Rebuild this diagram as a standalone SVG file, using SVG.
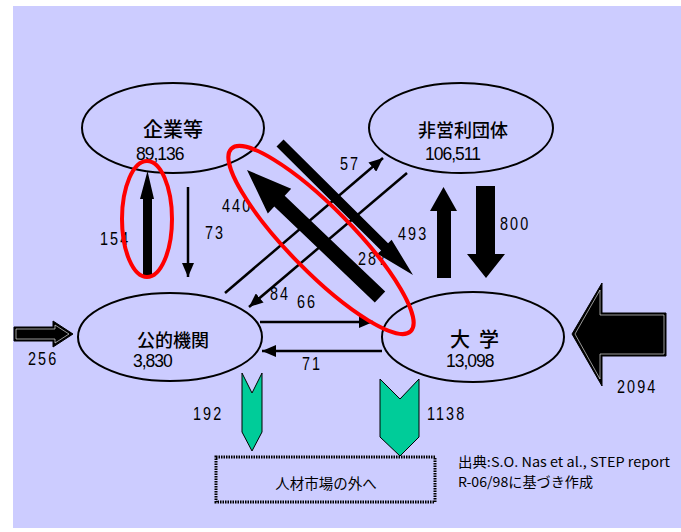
<svg xmlns="http://www.w3.org/2000/svg" width="681" height="532" viewBox="0 0 681 532">
<defs>
<style>
.node{fill:none;stroke:#000;stroke-width:2}
.jp{font-family:"Noto Sans CJK JP","Noto Sans",sans-serif;fill:#000}
.num{font-family:"Liberation Sans",Arial,sans-serif;font-size:17.5px;letter-spacing:-1px;fill:#000}
.lbl{font-family:"Liberation Sans",Arial,sans-serif;font-size:18px;letter-spacing:2.6px;fill:#000}
.thin{stroke:#000;stroke-width:2.5;fill:none;marker-end:url(#ah)}
.solid{fill:#000;stroke:none}
.green{fill:#00CC99;stroke:#000;stroke-width:1}
.red{fill:none;stroke:#FF0000;stroke-width:4}
</style>
<marker id="ah" markerUnits="userSpaceOnUse" markerWidth="15" markerHeight="12" refX="14" refY="6" orient="auto">
<path d="M0,0 L14,6 L0,12 z" fill="#000"/>
</marker>
</defs>
<rect x="13" y="6" width="668" height="522" fill="#CCCCFF"/>

<g id="node-kigyo">
<ellipse class="node" cx="173" cy="128" rx="91" ry="45"/>
<text class="jp" x="143" y="137" font-size="20" font-weight="500">企業等</text>
<text class="num" x="136" y="160">89,136</text>
</g>
<g id="node-npo">
<ellipse class="node" cx="461" cy="128" rx="92" ry="45"/>
<text class="jp" x="418" y="137" font-size="18" font-weight="500">非営利団体</text>
<text class="num" x="425" y="160">106,511</text>
</g>
<g id="node-koteki">
<ellipse class="node" cx="170" cy="337" rx="92" ry="44"/>
<text class="jp" x="137" y="347" font-size="18" font-weight="500">公的機関</text>
<text class="num" x="133" y="367">3,830</text>
</g>
<g id="node-daigaku">
<ellipse class="node" cx="473" cy="337" rx="91" ry="45"/>
<text class="jp" x="450" y="347" font-size="20" font-weight="500">大</text>
<text class="jp" x="479" y="347" font-size="20" font-weight="500">学</text>
<text class="num" x="446" y="367">13,098</text>
</g>
<g id="node-outside">
<rect x="216" y="457" width="219" height="45" fill="none" stroke="#000" stroke-width="3" stroke-dasharray="1.5 1"/>
<text class="jp" x="326" y="489" font-size="14.5" text-anchor="middle">人材市場の外へ</text>
</g>
<g id="source-note">
<text class="jp" x="458" y="467" font-size="13.5" textLength="212" lengthAdjust="spacingAndGlyphs">出典:S.O. Nas et al., STEP report</text>
<text class="jp" x="458" y="487" font-size="13.5" textLength="135" lengthAdjust="spacingAndGlyphs">R-06/98に基づき作成</text>
</g>

<g id="connectors">
<polygon class="solid" points="143,276 143,199 140,199 147.5,171 154,199 152,199 152,276"/>
<line class="thin" x1="188" y1="187" x2="188" y2="277"/>
<polygon class="solid" points="385.2,291.6 284.7,195.7 291.2,188.8 247,170 267.8,213.4 274.3,206.5 374.8,302.4"/>
<polygon class="solid" points="283.5,139.4 388.1,243.3 391.6,239.7 413,275 377.6,253.9 381.1,250.4 276.5,146.6"/>
<line class="thin" x1="225" y1="293" x2="383" y2="158"/>
<line class="thin" x1="407" y1="173" x2="249" y2="307"/>
<line class="thin" x1="260" y1="322" x2="373" y2="322"/>
<line class="thin" x1="382" y1="351" x2="262" y2="351"/>
<polygon class="solid" points="437,278 437,211 430,211 443.5,187 457,211 451,211 451,278"/>
<polygon class="solid" points="476,186 495,186 495,254 505,254 486,278 467,254 476,254"/>
<polygon fill="#000" stroke="#000" stroke-width="1" points="14,327 53,327 53,321 73,334 53,347 53,341 14,341"/>
<polygon fill="none" stroke="#fff" stroke-width="0.6" points="16,329 55,329 55,325 69,334 55,343 55,339 16,339"/>
<polygon fill="#000" stroke="#000" stroke-width="1" points="666,313 602,313 602,283 572,334 602,386 602,356 666,356"/>
<polygon fill="none" stroke="#fff" stroke-width="0.6" points="664,315 600,315 600,290 575,334 600,379 600,354 664,354"/>
<polygon class="green" points="242,373 252,393 262,373 262,432 252,451 242,432"/>
<polygon class="green" points="380,379 400,399 419,379 419,437 400,456 380,437"/>
</g>

<g id="labels">
<text class="lbl" transform="translate(100 245) scale(0.8 1)">154</text>
<text class="lbl" transform="translate(205 239) scale(0.8 1)">73</text>
<text class="lbl" transform="translate(222 212) scale(0.8 1)">440</text>
<text class="lbl" transform="translate(340 170) scale(0.8 1)">57</text>
<text class="lbl" transform="translate(398 240) scale(0.8 1)">493</text>
<text class="lbl" transform="translate(358 265) scale(0.8 1)">287</text>
<text class="lbl" transform="translate(270 300) scale(0.8 1)">84</text>
<text class="lbl" transform="translate(297 308) scale(0.8 1)">66</text>
<text class="lbl" transform="translate(302 370) scale(0.8 1)">71</text>
<text class="lbl" transform="translate(500 230) scale(0.8 1)">800</text>
<text class="lbl" transform="translate(28 365) scale(0.8 1)">256</text>
<text class="lbl" transform="translate(617 393) scale(0.8 1)">2094</text>
<text class="lbl" transform="translate(193 420) scale(0.8 1)">192</text>
<text class="lbl" transform="translate(427 420) scale(0.8 1)">1138</text>
</g>

<g id="highlights">
<ellipse class="red" cx="147" cy="219" rx="25" ry="58"/>
<ellipse class="red" cx="321" cy="240" rx="128" ry="32" transform="rotate(45.5 321 240)"/>
</g>
</svg>
